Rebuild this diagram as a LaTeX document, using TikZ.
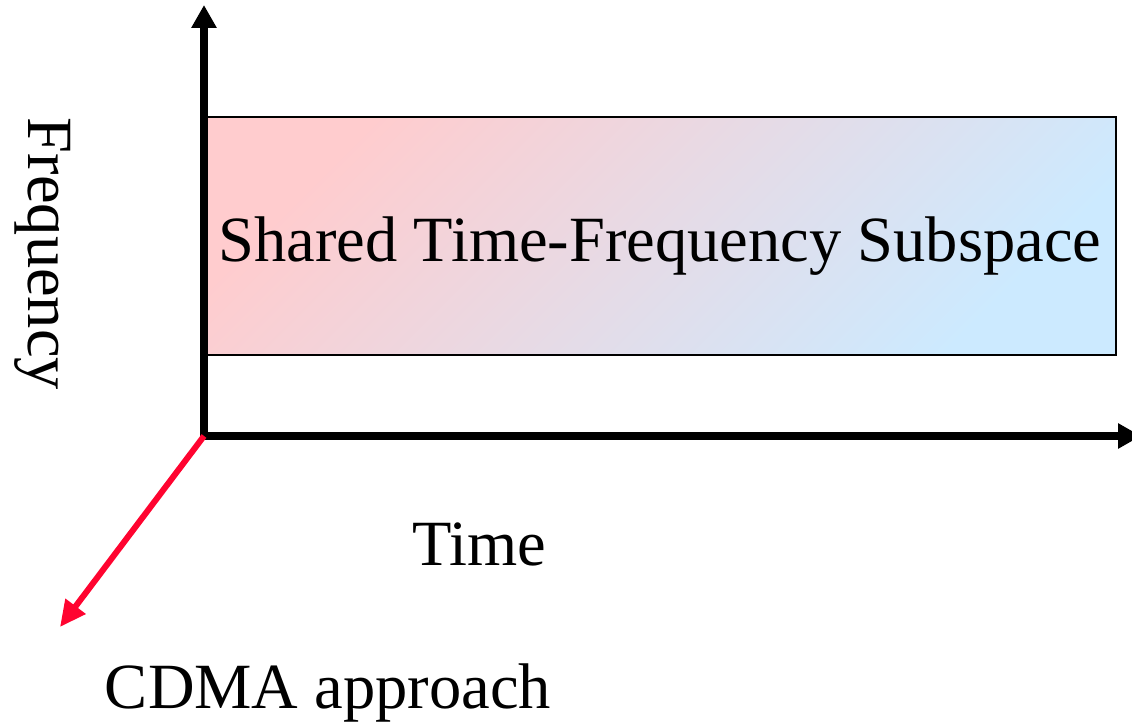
\documentclass[tikz,border=0pt]{standalone}
\usepackage{fontspec}
\setmainfont{Liberation Serif}
\usetikzlibrary{arrows.meta}
\definecolor{boxpink}{RGB}{255,204,206}
\definecolor{boxblue}{RGB}{204,234,255}
\definecolor{cdmared}{RGB}{255,4,48}
\tikzset{
  axisline/.style={line width=8pt, line cap=rect, draw=black,
    -{Triangle[length=23pt,width=24pt]}},
  cdmaline/.style={line width=6pt, draw=cdmared,
    -{Triangle[length=26pt,width=24pt]}},
  bigtext/.style={font=\fontsize{64.5pt}{72pt}\selectfont, inner sep=0pt, anchor=base},
  subspace/.style={draw=black, line width=2.5pt, inner sep=0pt,
    minimum width=912pt, minimum height=238pt,
    left color=boxpink, right color=boxblue, shading angle=45}
}
\begin{document}
\begin{tikzpicture}[x=1pt,y=-1pt]
  \clip (0,0) rectangle (1132,722);
  \useasboundingbox (0,0) rectangle (1132,722);

  % shared subspace block
  \node[subspace] (box) at (660,236) {};
  \node[bigtext] (boxlabel) at (660,261) {Shared Time-Frequency Subspace};

  % axes
  \coordinate (origin) at (204,436);
  \coordinate (ftip) at (204,5);
  \coordinate (ttip) at (1141,436);
  \coordinate (ctip) at (60,627);
  \draw[axisline] (origin) -- (ftip);
  \draw[axisline] (origin) -- (ttip);
  \draw[cdmaline] (origin) -- (ctip);

  % axis labels
  \node[bigtext, rotate=-90] (flabel) at (28,254) {Frequency};
  \node[bigtext] (tlabel) at (479,565) {Time};
  \node[bigtext] (clabel) at (328,708) {CDMA approach};
\end{tikzpicture}
\end{document}
